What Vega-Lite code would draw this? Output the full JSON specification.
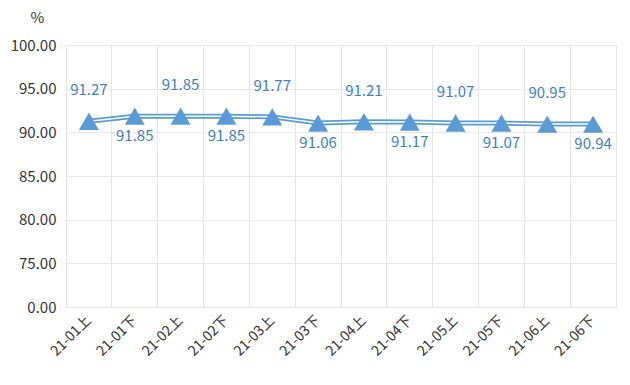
{
  "$schema": "https://vega.github.io/schema/vega-lite/v6.json",
  "width": 550,
  "height": 262,
  "autosize": "none",
  "padding": {"left": 66, "top": 45, "right": 14, "bottom": 78},
  "background": "white",
  "config": {
    "view": {"stroke": "#e4e4e4", "strokeWidth": 1},
    "font": "Noto Sans CJK SC"
  },
  "data": {"values": [
    {"period": "21-01上", "rate": 91.27},
    {"period": "21-01下", "rate": 91.85},
    {"period": "21-02上", "rate": 91.85},
    {"period": "21-02下", "rate": 91.85},
    {"period": "21-03上", "rate": 91.77},
    {"period": "21-03下", "rate": 91.06},
    {"period": "21-04上", "rate": 91.21},
    {"period": "21-04下", "rate": 91.17},
    {"period": "21-05上", "rate": 91.07},
    {"period": "21-05下", "rate": 91.07},
    {"period": "21-06上", "rate": 90.95},
    {"period": "21-06下", "rate": 90.94}
  ]},
  "encoding": {
    "x": {
      "field": "period", "type": "ordinal", "sort": null,
      "scale": {"type": "band", "paddingInner": 0, "paddingOuter": 0},
      "axis": {
        "title": null, "labelAngle": -45, "labelAlign": "right", "labelBaseline": "middle",
        "labelFontSize": 14, "labelColor": "#333333", "labelPadding": 11,
        "ticks": false, "domainColor": "#e4e4e4",
        "grid": true, "gridColor": "#e4e4e4", "bandPosition": 0
      }
    },
    "y": {
      "field": "rate", "type": "quantitative",
      "scale": {"domain": [70, 100], "nice": false, "zero": false},
      "axis": {
        "values": [70, 75, 80, 85, 90, 95, 100],
        "labelExpr": "datum.value == 70 ? '0.00' : format(datum.value, '.2f')",
        "labelFontSize": 15, "labelColor": "#333333", "labelPadding": 10,
        "ticks": false, "domain": false, "gridColor": "#e8e8e8",
        "title": "%", "titleAngle": 0, "titleFontSize": 15, "titleFontWeight": "normal",
        "titleColor": "#333333", "titleX": -29, "titleY": -20, "titleAlign": "center"
      }
    }
  },
  "layer": [
    {"mark": {"type": "line", "color": "#5b9bd5", "strokeWidth": 5}},
    {"mark": {"type": "line", "color": "white", "strokeWidth": 1.5}},
    {"mark": {"type": "point", "shape": "triangle-up", "filled": true, "color": "#5b9bd5", "opacity": 1, "size": 400}},
    {
      "transform": [{"filter": "indexof(datum.period, '上') >= 0"}],
      "mark": {"type": "text", "dy": -31, "fontSize": 15, "color": "#3f7fbf"},
      "encoding": {"text": {"field": "rate", "type": "quantitative", "format": ".2f"}}
    },
    {
      "transform": [{"filter": "indexof(datum.period, '下') >= 0"}],
      "mark": {"type": "text", "dy": 20, "fontSize": 15, "color": "#3f7fbf"},
      "encoding": {"text": {"field": "rate", "type": "quantitative", "format": ".2f"}}
    }
  ]
}
